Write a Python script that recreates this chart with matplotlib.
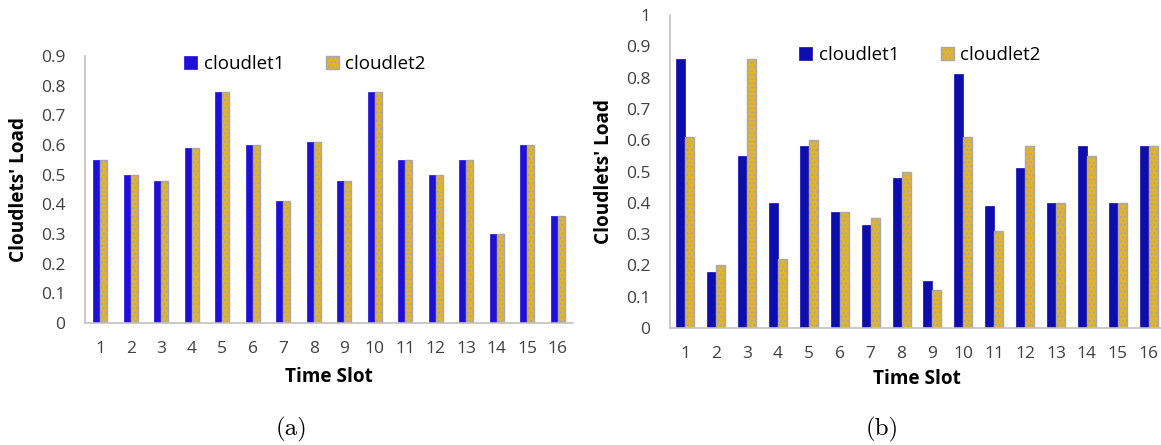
import numpy as np
import matplotlib.pyplot as plt

slots = [str(i) for i in range(1, 17)]
load_a1 = [0.55, 0.50, 0.48, 0.59, 0.78, 0.60, 0.41, 0.61, 0.48, 0.78, 0.55, 0.50, 0.55, 0.30, 0.60, 0.36]
load_a2 = [0.55, 0.50, 0.48, 0.59, 0.78, 0.60, 0.41, 0.61, 0.48, 0.78, 0.55, 0.50, 0.55, 0.30, 0.60, 0.36]
load_b1 = [0.86, 0.18, 0.55, 0.40, 0.58, 0.37, 0.33, 0.48, 0.15, 0.81, 0.39, 0.51, 0.40, 0.58, 0.40, 0.58]
load_b2 = [0.61, 0.20, 0.86, 0.22, 0.60, 0.37, 0.35, 0.50, 0.12, 0.61, 0.31, 0.58, 0.40, 0.55, 0.40, 0.58]

W, H = 1161, 445
plt.rcParams['font.family'] = ['Open Sans', 'DejaVu Sans']
plt.rcParams['hatch.linewidth'] = 1.0
fig = plt.figure(figsize=(W / 100, H / 100), dpi=100)

def px_axes(left, top, right, bottom):
    return fig.add_axes([left / W, 1 - bottom / H, (right - left) / W, (bottom - top) / H])

def panel(ax, v1, v2, ymax, blue, width, ylab_x, xlab_y, leg_pos):
    x = np.arange(len(slots))
    ax.bar(x - width / 2, v1, width, color=blue, edgecolor=blue, linewidth=0.5, label='cloudlet1')
    ax.bar(x + width / 2, v2, width, color='#e6b422', edgecolor='#a8a8a8', hatch='....',
           linewidth=1.0, label='cloudlet2')
    ax.set_xlim(-0.5, len(slots) - 0.5)
    ax.set_ylim(0, ymax)
    ticks = np.round(np.arange(0, ymax + 0.001, 0.1), 1)
    ax.set_yticks(ticks)
    ax.set_yticklabels(['0' if t == 0 else ('1' if t == 1 else f'{t:.1f}') for t in ticks])
    ax.set_xticks(x)
    ax.set_xticklabels(slots)
    ax.tick_params(length=0, labelsize=12.5, colors='#404040')
    ax.tick_params(axis='x', pad=13)
    ax.tick_params(axis='y', pad=14)
    for s in ['top', 'right']:
        ax.spines[s].set_visible(False)
    for s in ['left', 'bottom']:
        ax.spines[s].set_color('#c0c0c0')
        ax.spines[s].set_linewidth(1.2)
    ax.set_ylabel("Cloudlets' Load", fontsize=13.7, fontweight='bold')
    ax.yaxis.set_label_coords(ylab_x, 0.5)
    ax.set_xlabel('Time Slot', fontsize=13.7, fontweight='bold')
    ax.xaxis.set_label_coords(0.5, xlab_y)
    ax.legend(loc='center', bbox_to_anchor=leg_pos, bbox_transform=fig.transFigure, ncol=2,
              frameon=False, fontsize=13.5, handlelength=0.7, handleheight=0.7,
              handletextpad=0.35, columnspacing=2.2)

ax1 = px_axes(85, 56, 573, 323)
panel(ax1, load_a1, load_a2, 0.9, '#2010d6', 0.23, -0.115, -0.165, (305 / W, 1 - 64 / H))

ax2 = px_axes(670, 15, 1164, 328)
panel(ax2, load_b1, load_b2, 1.0, '#0e0eae', 0.29, -0.113, -0.131, (920 / W, 1 - 55 / H))

fig.text(291 / W, 1 - 429 / H, '(a)', family=['cmr10', 'DejaVu Serif'], fontsize=18, ha='center', va='center')
fig.text(882 / W, 1 - 429 / H, '(b)', family=['cmr10', 'DejaVu Serif'], fontsize=18, ha='center', va='center')

fig.savefig('out.png', dpi=100)
